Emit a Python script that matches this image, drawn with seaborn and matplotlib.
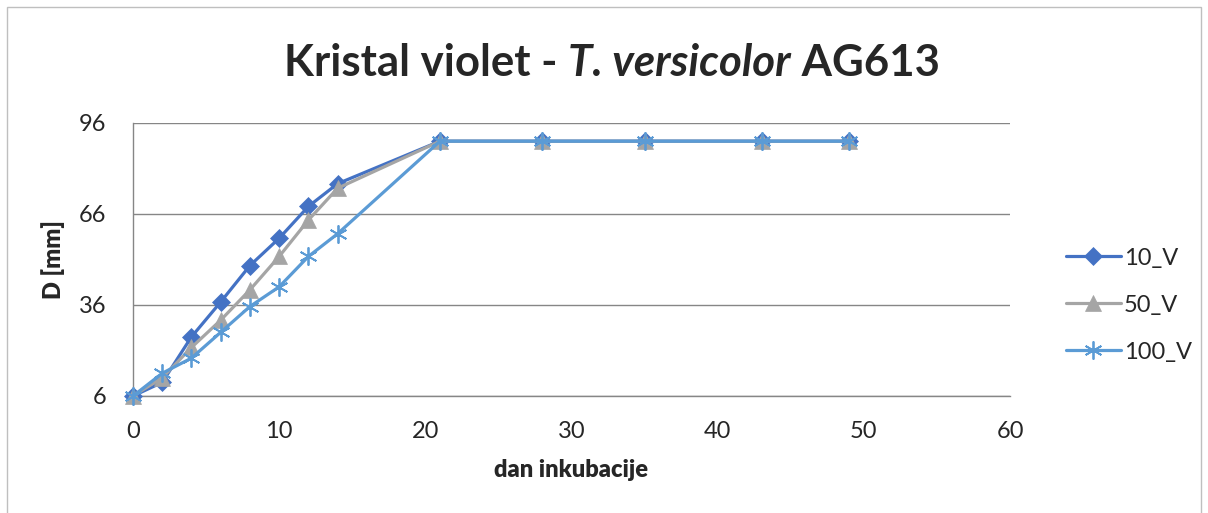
import pandas as pd
import numpy as np
import matplotlib.pyplot as plt
import seaborn as sns
from matplotlib.patches import Rectangle

# ----------------------------------------------------------
# DATA
# ----------------------------------------------------------
days = [0, 2, 4, 6, 8, 10, 12, 14, 21, 28, 35, 43, 49]
v10 = [6, 10.5, 25.5, 37, 49, 58, 68.5, 76, 90, 90, 90, 90, 90]
v50 = [6, 12, 22, 31, 41, 52, 64, 74.5, 90, 90, 90, 90, 90]
v100 = [6, 13.5, 18.5, 27, 35.5, 42, 52, 59.5, 90, 90, 90, 90, 90]
series_names = ["10_V", "50_V", "100_V"]
colors = ["#4472C4", "#A5A5A5", "#5B9BD5"]
y_ticks = [6, 36, 66, 96]
x_ticks = [0, 10, 20, 30, 40, 50, 60]
title_parts = [("Kristal violet - ", "normal"),
               ("T. versicolor", "italic"),
               (" AG613", "normal")]

df = pd.DataFrame({
    "dan": days * 3,
    "D": v10 + v50 + v100,
    "serija": [n for n in series_names for _ in days],
})

# ----------------------------------------------------------
# PLOT
# ----------------------------------------------------------
sns.set_style("white")
plt.rcParams["font.family"] = ["Lato", "DejaVu Sans"]

fig = plt.figure(figsize=(12.08, 5.13), dpi=100)
fig.patches.append(Rectangle((7 / 1208, -0.1), 1194 / 1208, 1.1 - 7 / 513,
                             transform=fig.transFigure, fill=False,
                             edgecolor="#BFBFBF", linewidth=1))

ax = fig.add_axes([133 / 1208, 1 - 396 / 513, 877 / 1208, 273 / 513])

markers = {"10_V": "D", "50_V": "^", "100_V": (6, 2, 0)}
sizes = {"10_V": 9, "50_V": 11, "100_V": 13}
for name, col in zip(series_names, colors):
    sub = df[df["serija"] == name]
    sns.lineplot(data=sub, x="dan", y="D", ax=ax, color=col, linewidth=2.3,
                 marker=markers[name], markersize=sizes[name],
                 markeredgecolor=col, markerfacecolor=col,
                 markeredgewidth=1.3 if name == "100_V" else 0.5,
                 label=name, clip_on=False, zorder=3)

ax.set_xlim(0, 60)
ax.set_ylim(6, 96)
ax.set_xticks(x_ticks)
ax.set_yticks(y_ticks)
ax.grid(axis="y", color="#868686", linewidth=1)
ax.grid(axis="x", visible=False)
for s in ["top", "right"]:
    ax.spines[s].set_visible(False)
for s in ["left", "bottom"]:
    ax.spines[s].set_color("#868686")
    ax.spines[s].set_linewidth(1)
ax.tick_params(axis="both", direction="out", length=6, color="#868686",
               labelsize=17, width=1)
ax.tick_params(axis="x", pad=12)
ax.tick_params(axis="y", pad=13)

ax.set_xlabel("dan inkubacije", fontsize=17, fontweight="heavy", labelpad=12)
ax.set_ylabel("D [mm]", fontsize=17, fontweight="heavy", labelpad=10)

leg = ax.legend(loc="center left", bbox_to_anchor=(1.040, 0.333), frameon=False,
                fontsize=17, handlelength=2.3, handletextpad=0.15,
                labelspacing=1.1)

# title in pieces so the species name can be italic
renderer = fig.canvas.get_renderer()
texts = []
for txt, style in title_parts:
    t = fig.text(0, 0.878, txt, ha="left", va="center", fontsize=31.5,
                 fontweight="bold", fontstyle=style)
    texts.append(t)
widths = [t.get_window_extent(renderer).width for t in texts]
x = 612 - sum(widths) / 2
for t, w in zip(texts, widths):
    t.set_x(x / 1208)
    x += w

plt.savefig("out.png", dpi=100)
plt.close()
